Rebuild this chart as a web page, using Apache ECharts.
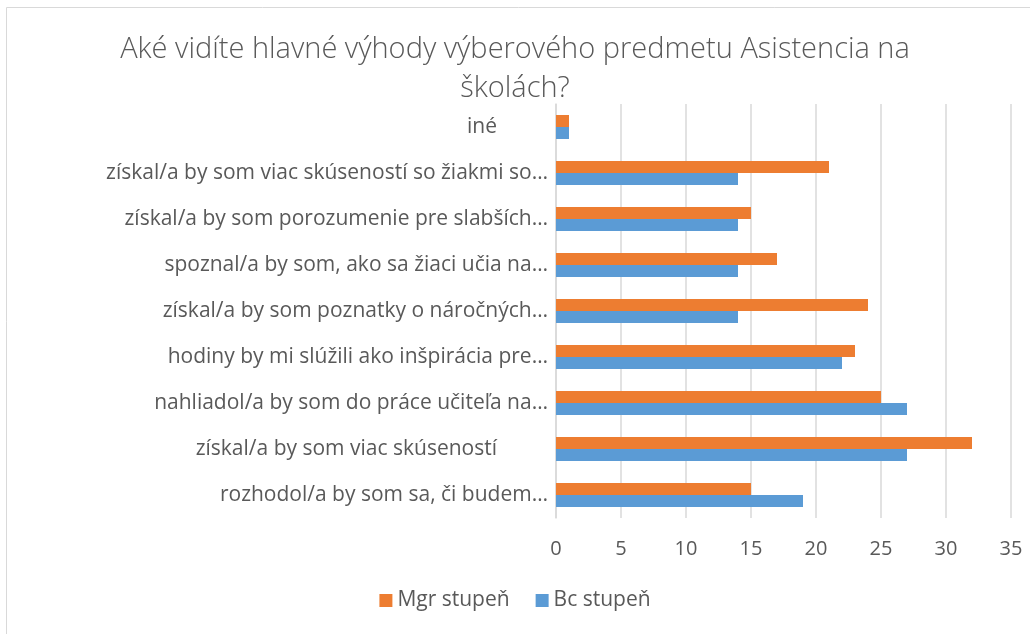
<!DOCTYPE html>
<html>
<head>
<meta charset="UTF-8">
<title>Asistencia na školách</title>
<script src="https://cdn.jsdelivr.net/npm/echarts@6/dist/echarts.min.js"></script>
<style>
    body { margin: 0; background: #fff; }
    #main { width: 1030px; height: 634px; }
</style>
</head>
<body>
<div id="main"></div>
<script>
    // kategórie zdola nahor (ako v Exceli)
    var categories = [
        'rozhodol/a by som sa, či budem…',
        'získal/a by som viac skúseností',
        'nahliadol/a by som do práce učiteľa na…',
        'hodiny by mi slúžili ako inšpirácia pre…',
        'získal/a by som poznatky o náročných…',
        'spoznal/a by som, ako sa žiaci učia na…',
        'získal/a by som porozumenie pre slabších…',
        'získal/a by som viac skúseností so žiakmi so…',
        'iné'
    ];
    var mgrValues = [15, 32, 25, 23, 24, 17, 15, 21, 1];
    var bcValues = [19, 27, 27, 22, 14, 14, 14, 14, 1];
    var xTicks = [0, 5, 10, 15, 20, 25, 30, 35];

    var textColor = '#595959';
    var font = 'Open Sans';

    var myChart = echarts.init(document.getElementById('main'));
    myChart.setOption({
        animation: false,
        title: {
            text: 'Aké vidíte hlavné výhody výberového predmetu Asistencia na\nškolách?',
            left: 'center',
            top: 25,
            textStyle: {
                fontFamily: font,
                fontWeight: 300,
                fontSize: 29,
                lineHeight: 39,
                color: textColor
            }
        },
        legend: {
            data: ['Mgr stupeň', 'Bc stupeň'],
            bottom: 18,
            left: 'center',
            itemWidth: 13,
            itemHeight: 13,
            itemGap: 26,
            icon: 'rect',
            textStyle: { fontFamily: font, fontSize: 21, color: textColor }
        },
        grid: { left: 556, right: 19, top: 104, bottom: 116 },
        xAxis: {
            type: 'value',
            min: xTicks[0],
            max: xTicks[xTicks.length - 1],
            interval: xTicks[1] - xTicks[0],
            axisLine: { show: false },
            axisTick: { show: false },
            axisLabel: { fontFamily: font, fontSize: 20, color: textColor, margin: 21 },
            splitLine: { lineStyle: { color: '#d9d9d9', width: 1.5 } }
        },
        yAxis: {
            type: 'category',
            data: categories,
            axisLine: { lineStyle: { color: '#d9d9d9', width: 1.5 } },
            axisTick: { show: false },
            axisLabel: {
                fontFamily: font, fontSize: 21, color: textColor, margin: 8,
                formatter: function (v) {
                    return v.slice(-1) === '…' ? v : '{pad|' + v + '}';
                },
                rich: { pad: { fontFamily: font, fontSize: 21, color: textColor, padding: [0, 51, 0, 0] } }
            }
        },
        series: [
            {
                name: 'Mgr stupeň', type: 'bar', data: mgrValues,
                barWidth: 12, barGap: '0%',
                itemStyle: { color: '#ED7D31' }
            },
            {
                name: 'Bc stupeň', type: 'bar', data: bcValues,
                barWidth: 12, barGap: '0%',
                itemStyle: { color: '#5B9BD5' }
            }
        ],
        graphic: [{
            type: 'rect',
            shape: { x: 6.5, y: 7.5, width: 1100, height: 700 },
            style: { fill: 'none', stroke: '#d9d9d9', lineWidth: 1 },
            silent: true
        }]
    });
</script>
</body>
</html>
